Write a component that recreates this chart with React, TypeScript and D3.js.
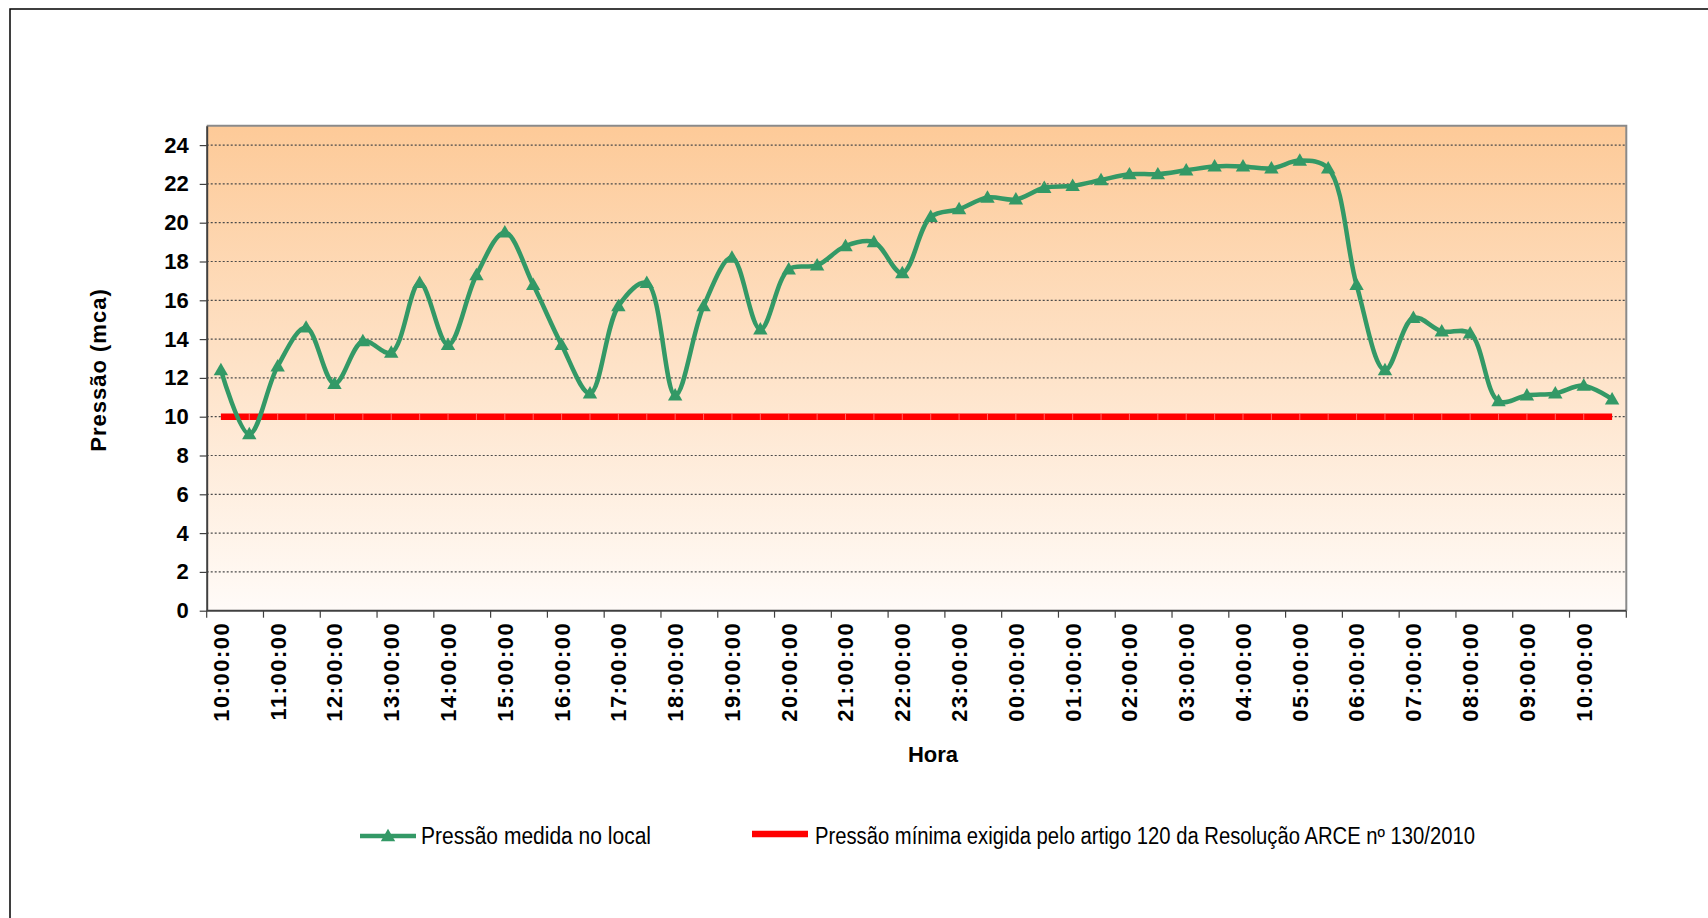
import React, { useEffect, useRef } from 'react';
import * as d3 from 'd3';

// half-hour readings, 10:00 day 1 to 10:30 day 2
const categories = [
  '10:00:00', '10:30:00', '11:00:00', '11:30:00', '12:00:00', '12:30:00', '13:00:00', '13:30:00',
  '14:00:00', '14:30:00', '15:00:00', '15:30:00', '16:00:00', '16:30:00', '17:00:00', '17:30:00',
  '18:00:00', '18:30:00', '19:00:00', '19:30:00', '20:00:00', '20:30:00', '21:00:00', '21:30:00',
  '22:00:00', '22:30:00', '23:00:00', '23:30:00', '00:00:00', '00:30:00', '01:00:00', '01:30:00',
  '02:00:00', '02:30:00', '03:00:00', '03:30:00', '04:00:00', '04:30:00', '05:00:00', '05:30:00',
  '06:00:00', '06:30:00', '07:00:00', '07:30:00', '08:00:00', '08:30:00', '09:00:00', '09:30:00',
  '10:00:00 ', '10:30:00 ',
];

const hourLabels = [
  '10:00:00', '11:00:00', '12:00:00', '13:00:00', '14:00:00', '15:00:00', '16:00:00', '17:00:00',
  '18:00:00', '19:00:00', '20:00:00', '21:00:00', '22:00:00', '23:00:00', '00:00:00', '01:00:00',
  '02:00:00', '03:00:00', '04:00:00', '05:00:00', '06:00:00', '07:00:00', '08:00:00', '09:00:00',
  '10:00:00',
];

const pressure = [
  12.4, 9.1, 12.6, 14.6, 11.7, 13.9, 13.3, 16.9, 13.7, 17.3,
  19.5, 16.8, 13.7, 11.2, 15.7, 16.9, 11.1, 15.7, 18.2, 14.5,
  17.6, 17.8, 18.8, 19.0, 17.4, 20.3, 20.7, 21.3, 21.2, 21.8,
  21.9, 22.2, 22.5, 22.5, 22.7, 22.9, 22.9, 22.8, 23.2, 22.8,
  16.8, 12.4, 15.1, 14.4, 14.3, 10.8, 11.1, 11.2, 11.6, 10.9,
];

const minPressure = 10;
const yTicks = [0, 2, 4, 6, 8, 10, 12, 14, 16, 18, 20, 22, 24];

const seriesNames = [
  'Pressão medida no local',
  'Pressão mínima exigida pelo artigo 120 da Resolução ARCE nº 130/2010',
];

const GREEN = '#339966';
const RED = '#FF0000';
const FONT = '"Liberation Sans", Arial, sans-serif';

const App = () => {
  const ref = useRef<SVGSVGElement>(null);

  useEffect(() => {
    const svg = d3.select(ref.current);
    svg.selectAll('*').remove();

    const left = 206.7, right = 1626.3, top = 125.7, bottom = 610.7;

    const x = d3.scaleBand().domain(categories).range([left, right]).padding(0);
    const cx = (c: string) => (x(c) as number) + x.bandwidth() / 2;
    const y = d3.scaleLinear().domain([0, 25]).range([bottom, top]);

    // outer chart border
    svg.append('rect')
      .attr('x', 10).attr('y', 9).attr('width', 1720).attr('height', 940)
      .attr('fill', 'white').attr('stroke', 'black').attr('stroke-width', 1.5);

    const grad = svg.append('defs').append('linearGradient')
      .attr('id', 'plotbg').attr('x1', 0).attr('y1', 0).attr('x2', 0).attr('y2', 1);
    grad.append('stop').attr('offset', '0%').attr('stop-color', '#FDCA98');
    grad.append('stop').attr('offset', '100%').attr('stop-color', '#FFFBF8');

    svg.append('rect')
      .attr('x', left).attr('y', top).attr('width', right - left).attr('height', bottom - top)
      .attr('fill', 'url(#plotbg)');

    // dotted gridlines
    svg.append('g').selectAll('line')
      .data(yTicks.filter(d => d > 0))
      .enter().append('line')
      .attr('x1', left).attr('x2', right)
      .attr('y1', d => y(d)).attr('y2', d => y(d))
      .attr('stroke', '#4a4a4a').attr('stroke-width', 1.2).attr('stroke-dasharray', '2,2');

    // frame: top and right gray
    svg.append('path')
      .attr('d', `M${left},${top}H${right}V${bottom}`)
      .attr('fill', 'none').attr('stroke', '#8a8a8a').attr('stroke-width', 2);

    // y axis
    const yAxis = d3.axisLeft(y).tickValues(yTicks).tickSize(7).tickSizeOuter(0)
      .tickPadding(11).tickFormat(d => String(d));
    const yg = svg.append('g').attr('transform', `translate(${left},0)`).call(yAxis);
    yg.select('.domain').attr('stroke', '#404040').attr('stroke-width', 2);
    yg.selectAll('.tick line').attr('stroke', '#404040').attr('stroke-width', 1.2);
    yg.selectAll('text')
      .style('font-family', FONT).style('font-size', '22px').style('font-weight', 'bold').attr('fill', 'black');

    // x axis
    svg.append('line')
      .attr('x1', left).attr('x2', right).attr('y1', bottom).attr('y2', bottom)
      .attr('stroke', '#404040').attr('stroke-width', 2);
    const hourCats = hourLabels.map((_, i) => categories[i * 2]);
    const tickX = hourCats.map(c => x(c) as number).concat([right]);
    svg.append('g').selectAll('line')
      .data(tickX)
      .enter().append('line')
      .attr('x1', d => d).attr('x2', d => d)
      .attr('y1', bottom).attr('y2', bottom + 7)
      .attr('stroke', '#404040').attr('stroke-width', 1.2);
    svg.append('g').selectAll('text')
      .data(hourLabels)
      .enter().append('text')
      .attr('transform', (_, i) => `translate(${cx(hourCats[i])},${bottom + 11}) rotate(-90)`)
      .attr('text-anchor', 'end')
      .attr('dy', '0.36em')
      .style('font-family', FONT).style('font-size', '22px').style('font-weight', 'bold')
      .style('letter-spacing', '1.5px')
      .text(d => d);

    // titles
    svg.append('text')
      .attr('transform', 'translate(98,370) rotate(-90)')
      .attr('text-anchor', 'middle').attr('dy', '0.36em')
      .style('font-family', FONT).style('font-size', '22px').style('font-weight', 'bold')
      .style('letter-spacing', '1px')
      .text('Pressão (mca)');
    svg.append('text')
      .attr('x', 933).attr('y', 754).attr('text-anchor', 'middle').attr('dy', '0.36em')
      .style('font-family', FONT).style('font-size', '22px').style('font-weight', 'bold')
      .text('Hora');

    // minimum pressure line
    const minLine = d3.line<string>().x(c => cx(c)).y(() => y(minPressure));
    svg.append('path')
      .attr('d', minLine(categories))
      .attr('fill', 'none').attr('stroke', RED).attr('stroke-width', 6.5);
    svg.append('g').selectAll('line')
      .data(categories.slice(1, -1))
      .enter().append('line')
      .attr('x1', c => cx(c)).attr('x2', c => cx(c))
      .attr('y1', y(minPressure) - 3.2).attr('y2', y(minPressure) + 3.2)
      .attr('stroke', '#ff8080').attr('stroke-width', 0.8);

    // measured pressure
    const line = d3.line<number>()
      .x((_, i) => cx(categories[i]))
      .y(d => y(d))
      .curve(d3.curveCatmullRom.alpha(0.5));
    svg.append('path')
      .attr('d', line(pressure))
      .attr('fill', 'none').attr('stroke', GREEN).attr('stroke-width', 4.5)
      .attr('stroke-linejoin', 'round');

    const tri = d3.symbol().type(d3.symbolTriangle).size(90);
    svg.append('g').selectAll('path')
      .data(pressure)
      .enter().append('path')
      .attr('d', tri())
      .attr('transform', (d, i) => `translate(${cx(categories[i])},${y(d) + 1})`)
      .attr('fill', GREEN);

    // legend
    const lg = svg.append('g');
    lg.append('line').attr('x1', 360).attr('x2', 416).attr('y1', 836).attr('y2', 836)
      .attr('stroke', GREEN).attr('stroke-width', 4.5);
    lg.append('path').attr('d', tri()).attr('transform', 'translate(388,837)').attr('fill', GREEN);
    lg.append('text').attr('x', 421).attr('y', 836).attr('dy', '0.36em')
      .attr('textLength', 230).attr('lengthAdjust', 'spacingAndGlyphs')
      .style('font-family', FONT).style('font-size', '23px')
      .text(seriesNames[0]);
    lg.append('line').attr('x1', 752).attr('x2', 808).attr('y1', 834).attr('y2', 834)
      .attr('stroke', RED).attr('stroke-width', 6.5);
    lg.append('text').attr('x', 815).attr('y', 836).attr('dy', '0.36em')
      .attr('textLength', 660).attr('lengthAdjust', 'spacingAndGlyphs')
      .style('font-family', FONT).style('font-size', '23px')
      .text(seriesNames[1]);
  }, []);

  return (
    <div style={{ position: 'absolute', left: 0, top: 0 }}>
      <svg ref={ref} width={1708} height={918} style={{ display: 'block' }}></svg>
    </div>
  );
};

export default App;
